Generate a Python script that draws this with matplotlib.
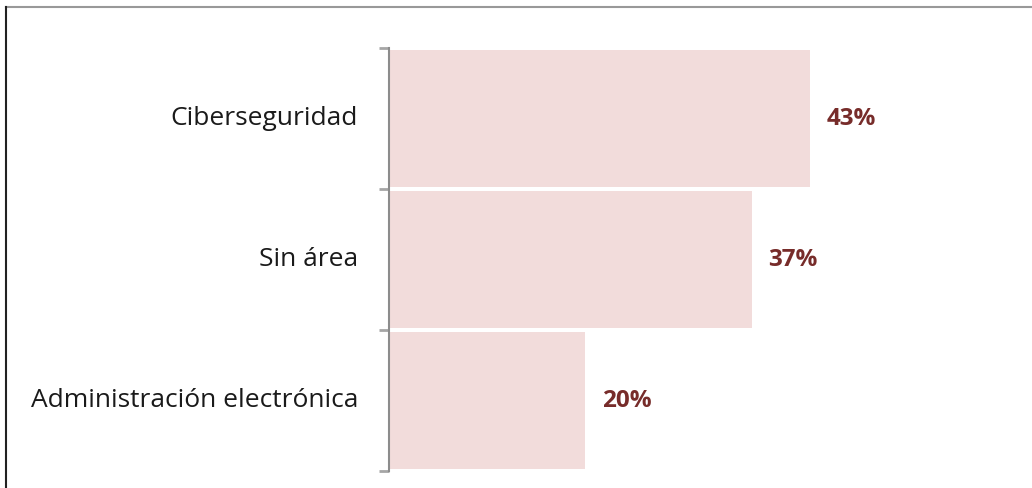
import matplotlib.pyplot as plt
from matplotlib.lines import Line2D

categories = ["Ciberseguridad", "Sin área", "Administración electrónica"]
values = [43, 37, 20]
value_labels = ["43%", "37%", "20%"]

bar_color = "#F2DCDB"
label_color = "#772C2A"

plt.rcParams['font.family'] = ['Open Sans', 'DejaVu Sans']

fig = plt.figure(figsize=(10.32, 4.88), dpi=100)
ax = fig.add_axes([389 / 1032, 17 / 488, (1000 - 389) / 1032, (471 - 48) / 488])

y = list(range(len(categories)))
ax.barh(y, values, height=0.965, color=bar_color, left=0)
for yi, v, lab in zip(y, values, value_labels):
    ax.text(v + 1.7, yi, lab, va='center', ha='left', fontsize=17.5,
            fontweight='bold', color=label_color)

ax.set_xlim(0, (1000 - 389) / 9.8)
ax.set_ylim(len(categories) - 0.5, -0.5)

# category names instead of tick labels, ticks sit between categories
ax.set_yticks([i - 0.5 for i in range(len(categories) + 1)])
ax.set_yticklabels([])
ax.tick_params(axis='y', length=7, width=2, color='#A6A6A6', direction='out')
ax.set_xticks([])
for yi, cat in zip(y, categories):
    ax.text(-31 / 9.8, yi, cat, va='center', ha='right', fontsize=19, color='#1a1a1a')

for s in ['top', 'right', 'bottom']:
    ax.spines[s].set_visible(False)
ax.spines['left'].set_color('#8C8C8C')
ax.spines['left'].set_linewidth(1.5)

# frame around the picture
fig.add_artist(Line2D([6 / 1032, 1], [1 - 7 / 488, 1 - 7 / 488], transform=fig.transFigure,
                      color='#999999', lw=1.5))
fig.add_artist(Line2D([6 / 1032, 6 / 1032], [0, 1 - 7 / 488], transform=fig.transFigure,
                      color='#222222', lw=1.5))

fig.savefig("out.png", dpi=100)
